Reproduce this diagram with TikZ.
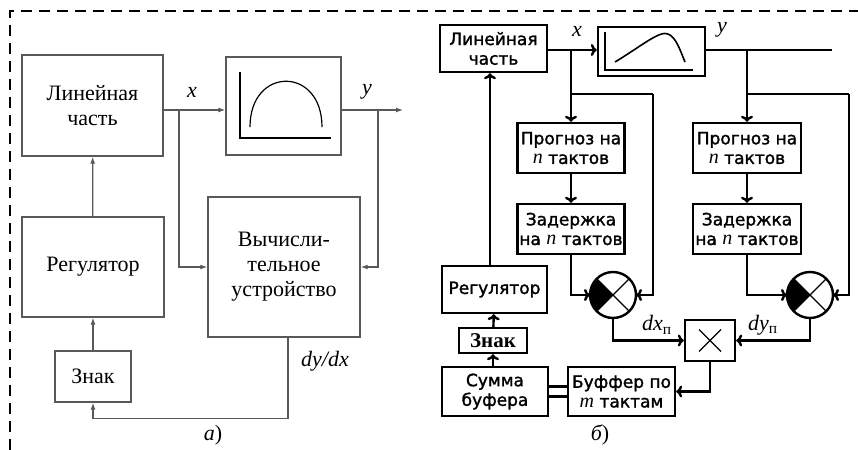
\documentclass[tikz,border=0pt]{standalone}
\usepackage{fontspec}
\setmainfont{Liberation Serif}
\newfontfamily\sansf[FakeBold=1.6]{DejaVu Sans}
\usetikzlibrary{arrows.meta}
\newcommand{\vi}[1]{{\rmfamily\itshape\fontsize{10}{10}\selectfont #1}}

\tikzset{
	boxa/.style={draw=black!65, line width=0.7pt, text=black, align=center, inner sep=0pt, font=\fontsize{11}{12.5}\selectfont},
	boxb/.style={draw, line width=1.2pt, align=center, inner sep=0pt, font=\sansf\fontsize{8.5}{9.8}\selectfont},
	lbl/.style={text=black, inner sep=0pt, font=\fontsize{11}{13}\selectfont\itshape},
	cmp/.style={circle, draw, line width=1.2pt, minimum size=23pt, inner sep=0pt, outer sep=0pt}
}

\begin{document}
\begin{tikzpicture}[x=0.5pt,y=-0.5pt]
	\useasboundingbox (0,0) rectangle (858,450);
	\draw[line width=1pt, dash pattern=on 5.5pt off 3.5pt] (10,450) -- (10,11) -- (858,11);

	% a)
	\begin{scope}[color=black!65, line width=0.6pt, >={Latex[length=3.5pt,width=2.5pt]}]
	\node[boxa, minimum width=70.5pt, minimum height=50.5pt] (lin) at (92.5,105.5) {Линейная\\часть};
	\node[boxa, minimum width=57.5pt, minimum height=49pt] (nl) at (283.5,106) {};
	\node[boxa, minimum width=76pt, minimum height=70pt] (calc) at (284,267) {Вычисли-\\тельное\\устройство};
	\node[boxa, minimum width=71pt, minimum height=50pt] (reg) at (93,267) {Регулятор};
	\node[boxa, minimum width=38pt, minimum height=25.5pt] (znak) at (93,376.5) {Знак};
	\coordinate (xj) at (179,110);
	\coordinate (yj) at (378,110);
	\coordinate (yout) at (403,110);
	\draw (lin.east |- xj) -- (xj);
	\draw[arrows=->] (xj) -- (nl.west |- xj);
	\draw (nl.east |- yj) -- (yj);
	\draw[arrows=->] (yj) -- (yout);
	\draw[arrows=->] (xj) |- (calc.west);
	\draw[arrows=->] (yj) |- (calc.east);
	\draw[arrows=->] (reg) -- (lin);
	\draw[arrows=->] (znak) -- (reg);
	\draw[arrows=->] ([xshift=2pt]calc.south) -- ++(0,81) -| (znak.south);
	\draw[color=black] (240,72) -- (240,138) -- (331,138);
	\draw[color=black] (250,127) .. controls (250,66) and (322,66) .. (322,127);
	\node[lbl] (xa) at (192,92) {x};
	\node[lbl] (ya) at (367,92) {y};
	\node[lbl] (dydx) at (325,361) {dy/dx};
	\node[lbl] (capa) at (213,435) {а\upshape)};
	\end{scope}

	% b)
	\begin{scope}[line width=1.2pt, >={To[length=3pt,width=6pt]}]
	\node[boxb, minimum width=53.5pt, minimum height=23.5pt] (lin2) at (493.5,48.5) {Линейная\\часть};
	\node[boxb, minimum width=53.5pt, minimum height=24.5pt] (nl2) at (651.5,51.5) {};
	\node[boxb, minimum width=53.5pt, minimum height=25pt] (prog1) at (571,148) {Прогноз на\\\vi{n} тактов};
	\node[boxb, minimum width=53.5pt, minimum height=25pt] (del1) at (571,229) {Задержка\\на \vi{n} тактов};
	\node[boxb, minimum width=54pt, minimum height=25pt] (prog2) at (747,148) {Прогноз на\\\vi{n} тактов};
	\node[boxb, minimum width=54pt, minimum height=25pt] (del2) at (747,229) {Задержка\\на \vi{n} тактов};
	\node[cmp] (cmp1) at (613,295) {};
	\node[cmp] (cmp2) at (810,295) {};
	\node[boxb, minimum width=25pt, minimum height=20.5pt] (mul) at (710,340.5) {};
	\node[boxb, minimum width=53.5pt, minimum height=24.5pt] (buf) at (621.5,391.5) {Буффер по\\\vi{m} тактам};
	\node[boxb, minimum width=53pt, minimum height=24.5pt] (sum) at (495,391.5) {Сумма\\буфера};
	\node[boxb, font=\bfseries\fontsize{10.5}{12}\selectfont, minimum width=34pt, minimum height=12.5pt] (znak2) at (493,340.5) {Знак};
	\node[boxb, minimum width=52.5pt, minimum height=23.5pt] (reg2) at (494.5,289.5) {Регулятор};
	\coordinate (xj2) at (571,50);
	\coordinate (xb) at (571,94);
	\coordinate (xr) at (653,94);
	\coordinate (yj2) at (747,50);
	\coordinate (yb) at (747,94);
	\coordinate (yr) at (849,94);
	\coordinate (yend) at (832,50);
	\draw[line width=0.8pt] (605,32) -- (605,70) -- (693,70);
	\draw[line width=0.8pt] (615,62) .. controls (640,47) and (660,30) .. (668,34) .. controls (676,37) and (680,50) .. (685,62);
	\draw (lin2.east |- xj2) -- (xj2);
	\draw[arrows=->] (xj2) -- (nl2.west |- xj2);
	\draw (nl2.east |- yj2) -- (yend);
	\draw[arrows=->] (xj2) -- (prog1);
	\draw[arrows=->] (prog1) -- (del1);
	\draw (xb) -- (xr);
	\draw[arrows=->] (xr) |- (cmp1.east);
	\draw[arrows=->] (del1.south) |- (cmp1.west);
	\draw[arrows=->] (yj2) -- (prog2);
	\draw[arrows=->] (prog2) -- (del2);
	\draw (yb) -- (yr);
	\draw[arrows=->] (yr) |- (cmp2.east);
	\draw[arrows=->] (del2.south) |- (cmp2.west);
	\foreach \c in {cmp1,cmp2} {
		\fill (\c.center) -- (\c.135) arc[start angle=135, end angle=225, radius=11.5pt] -- cycle;
		\draw[line width=0.7pt] (\c.45) -- (\c.225) (\c.135) -- (\c.315);
	}
	\draw[line width=0.7pt] ([shift={(-11,-11)}]mul.center) -- ([shift={(11,11)}]mul.center);
	\draw[line width=0.7pt] ([shift={(11,-11)}]mul.center) -- ([shift={(-11,11)}]mul.center);
	\draw[arrows=->] (cmp1.south) |- (mul.west);
	\draw[arrows=->] (cmp2.south) |- (mul.east);
	\draw[arrows=->] (mul.south) |- (buf.east);
	\draw ([yshift=2.5pt]sum.east) -- ([yshift=2.5pt]buf.west);
	\draw ([yshift=-2.5pt]sum.east) -- ([yshift=-2.5pt]buf.west);
	\draw[arrows=->] (sum.north -| znak2) -- (znak2.south);
	\draw[arrows=->] (znak2) -- (reg2);
	\draw[arrows=->] (reg2.north -| 490,0) -- (lin2.south -| 490,0);
	\node[lbl] (xb2) at (577,31) {x};
	\node[lbl] (yb2) at (722,30) {y};
	\node[lbl] (dxp) at (657,325) {dx\textsubscript{\upshape п}};
	\node[lbl] (dyp) at (763,325) {dy\textsubscript{\upshape п}};
	\node[lbl] (capb) at (600,435) {б\upshape)};
	\end{scope}
\end{tikzpicture}
\end{document}
